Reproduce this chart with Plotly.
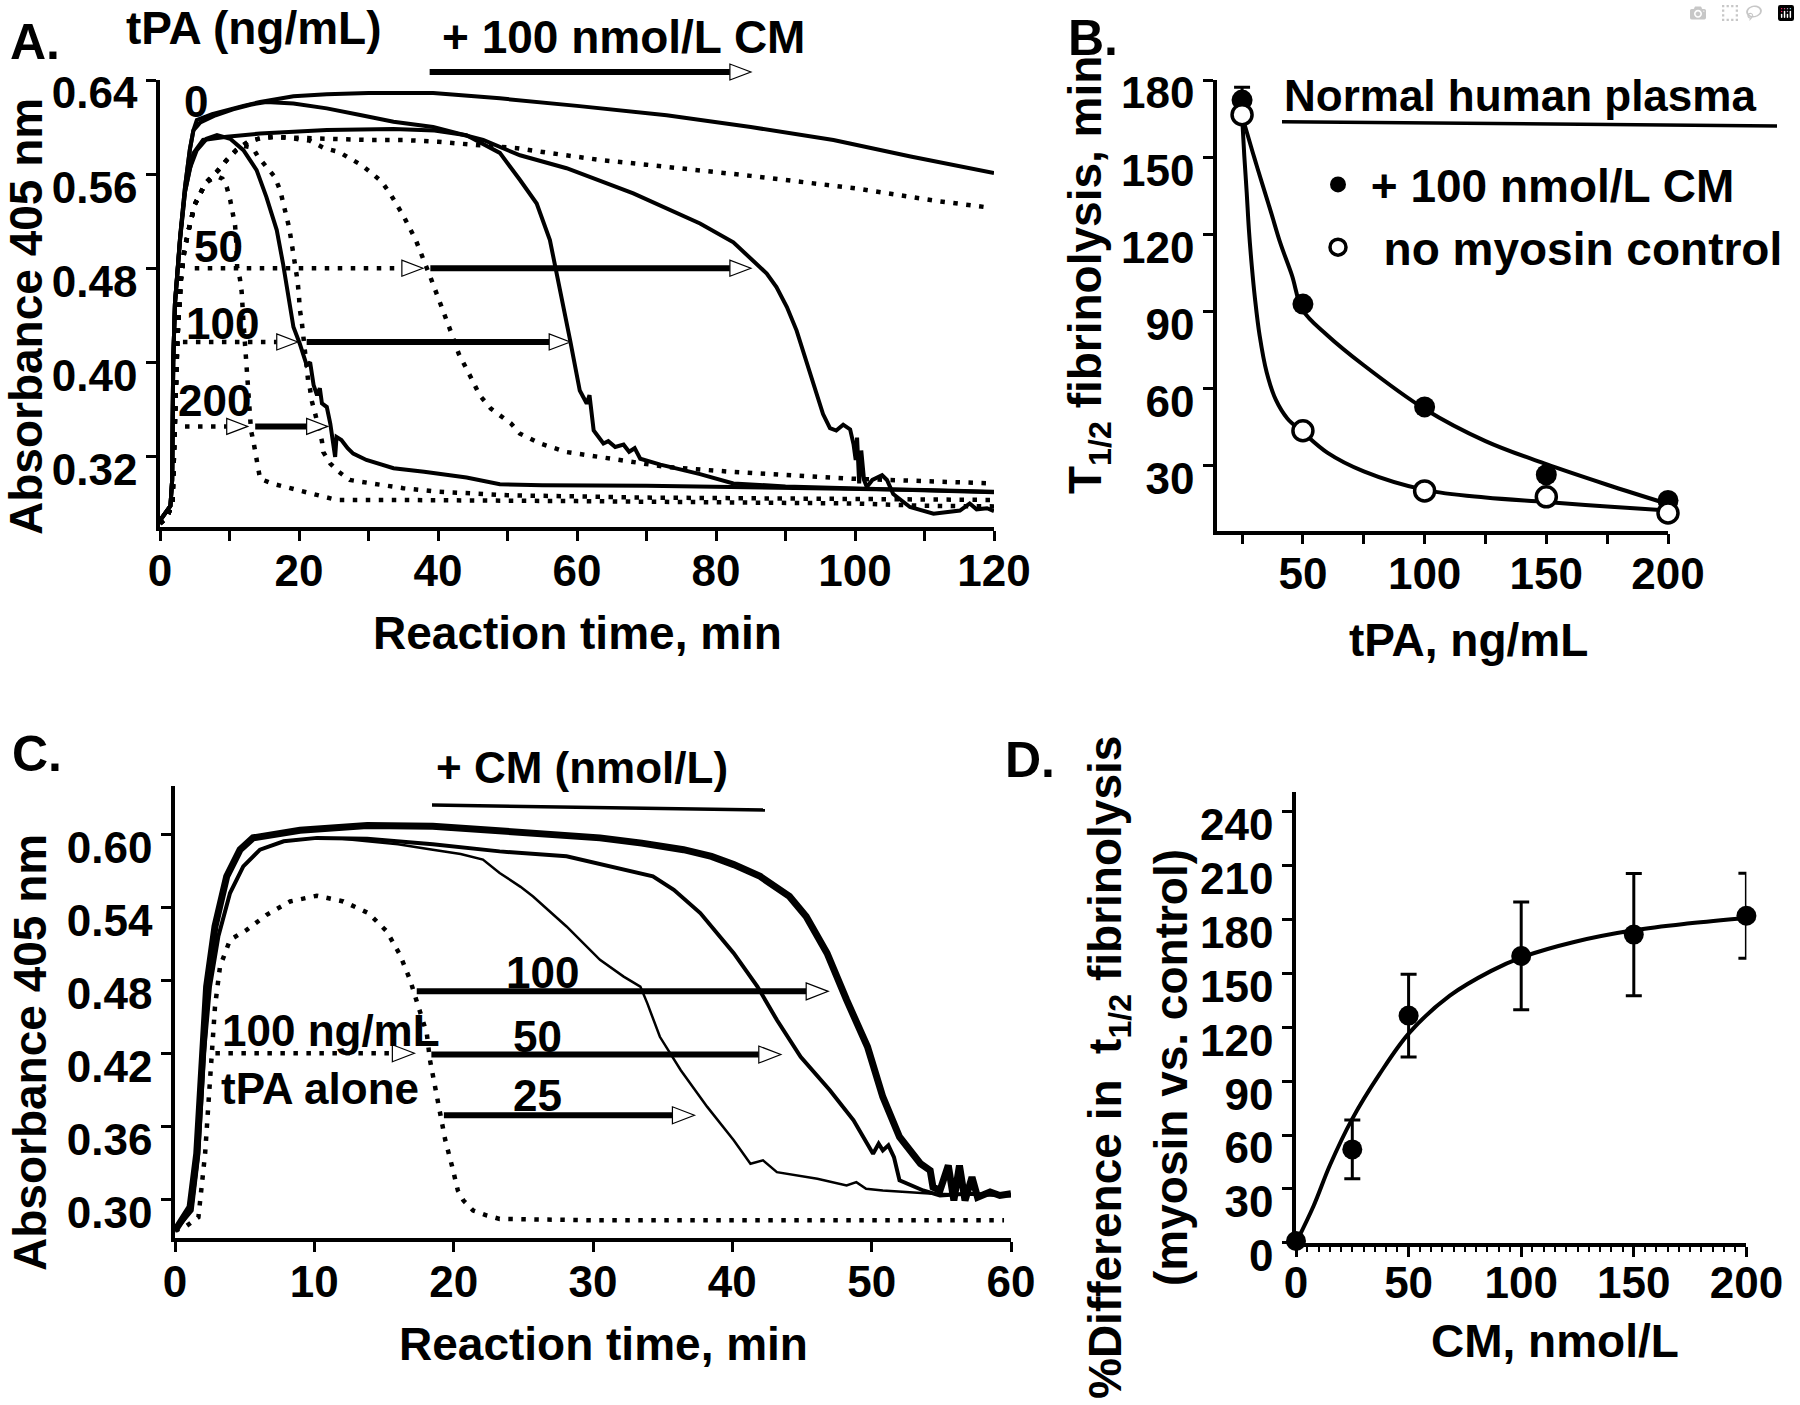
import plotly.graph_objects as go

FONT = "Liberation Sans, Arial, Helvetica, sans-serif"
W, H = 1800, 1405
BLACK = "black"

# ---------------- Panel A: absorbance vs time (tPA series, + / - 100 nmol/L CM) ----------------
a_t_s0 = [0, 0.7, 1.5, 1.75, 1.9, 2.15, 2.9, 3.6, 4.3, 4.8, 5.3, 7.5, 9.6, 12, 14.4, 16.8, 19.2, 24, 30, 39.3, 48.9, 60, 72.9, 85, 96.9, 108, 120]
a_v_s0 = [0.2655, 0.2712, 0.278, 0.30, 0.40, 0.45, 0.507, 0.549, 0.581, 0.597, 0.606, 0.611, 0.6145, 0.618, 0.6213, 0.624, 0.6262, 0.6279, 0.629, 0.629, 0.6244, 0.618, 0.610, 0.600, 0.589, 0.575, 0.561]

a_t_s50 = [0, 0.7, 1.5, 1.75, 1.9, 2.15, 2.9, 3.6, 4.3, 4.8, 5.8, 8, 10.5, 13, 15.3, 19.2, 24, 28.8, 33.6, 39.3, 46.5, 51.8, 58.5, 68.1, 77.7, 82.5, 85.2, 87.3, 88.7, 90.2, 91.6, 92.5, 94.0, 95.4, 96.4, 97.3, 98.3, 99.3, 99.8, 100.1, 100.3, 100.6, 100.9, 101.3, 101.7, 102.5, 103.9, 104.6, 105.5, 107.9, 111.3, 113, 115.1, 116.5, 117.5, 119, 120]
a_v_s50 = [0.2655, 0.2712, 0.278, 0.30, 0.40, 0.45, 0.507, 0.549, 0.581, 0.597, 0.604, 0.610, 0.615, 0.619, 0.6213, 0.620, 0.6159, 0.6102, 0.6045, 0.600, 0.589, 0.576, 0.565, 0.5436, 0.518, 0.502, 0.487, 0.4755, 0.464, 0.447, 0.427, 0.410, 0.382, 0.356, 0.344, 0.342, 0.347, 0.343, 0.330, 0.317, 0.336, 0.297, 0.325, 0.300, 0.294, 0.300, 0.304, 0.300, 0.288, 0.277, 0.2713, 0.2725, 0.274, 0.280, 0.275, 0.276, 0.2735]

a_t_s100 = [0, 0.7, 1.5, 1.75, 1.9, 2.15, 2.9, 3.6, 4.3, 4.8, 6.2, 9.6, 14.4, 24, 33.6, 39.5, 44.1, 48.9, 51.8, 54.2, 56.1, 57.6, 59.0, 60.4, 61.0, 61.4, 61.8, 62.4, 63.8, 64.5, 65.5, 66.7, 67.5, 68.3, 69.1, 72, 77.7, 82.5, 90, 100, 110, 120]
a_v_s100 = [0.2655, 0.2712, 0.278, 0.30, 0.40, 0.45, 0.505, 0.545, 0.563, 0.5776, 0.589, 0.5917, 0.5945, 0.5974, 0.5983, 0.597, 0.593, 0.578, 0.555, 0.535, 0.504, 0.461, 0.419, 0.376, 0.370, 0.365, 0.372, 0.342, 0.331, 0.333, 0.328, 0.330, 0.324, 0.327, 0.318, 0.313, 0.305, 0.297, 0.2945, 0.293, 0.291, 0.2896]

a_t_s200 = [0, 0.7, 1.5, 1.75, 1.9, 2.15, 2.9, 3.6, 4.3, 5.3, 6.7, 8.2, 10.1, 12.0, 13.9, 15.3, 16.8, 17.7, 18.7, 19.2, 20.1, 21.1, 21.6, 21.9, 22.1, 22.6, 23.0, 23.3, 24.0, 24.5, 24.9, 25.2, 25.4, 26.1, 27.0, 27.8, 29.7, 33.6, 38, 44.1, 48.9, 55, 70, 85, 100, 110, 120]
a_v_s200 = [0.2655, 0.2712, 0.278, 0.30, 0.40, 0.45, 0.505, 0.545, 0.565, 0.5804, 0.590, 0.5932, 0.590, 0.5804, 0.5634, 0.5407, 0.5124, 0.484, 0.45, 0.43, 0.416, 0.3976, 0.400, 0.384, 0.3806, 0.372, 0.378, 0.365, 0.362, 0.348, 0.328, 0.3196, 0.3366, 0.334, 0.327, 0.3224, 0.317, 0.310, 0.307, 0.302, 0.2963, 0.2955, 0.295, 0.294, 0.2925, 0.2915, 0.290]

a_t_d0 = [0, 1.0, 1.8, 2.1, 2.5, 3.0, 3.5, 4.1, 5.0, 5.8, 6.5, 8.4, 9.6, 11.0, 12.7, 14.4, 16.3, 19, 25, 30, 35, 40, 45, 51.4, 56, 63.3, 70, 77.7, 85, 92.1, 100, 106.5, 112, 118.7]
a_v_d0 = [0.263, 0.268, 0.28, 0.33, 0.42, 0.47, 0.495, 0.512, 0.534, 0.5435, 0.552, 0.5634, 0.572, 0.5805, 0.5876, 0.5904, 0.5917, 0.591, 0.5895, 0.589, 0.589, 0.5875, 0.585, 0.582, 0.578, 0.572, 0.568, 0.5634, 0.5585, 0.5535, 0.548, 0.542, 0.537, 0.532]

a_t_d50 = [0, 1.0, 1.8, 2.1, 2.5, 3.0, 3.5, 4.1, 5.0, 5.8, 6.5, 8.4, 9.6, 11.0, 12.7, 14.4, 16.3, 19, 21.5, 23.7, 25.7, 27.3, 29.0, 30.5, 31.9, 33.1, 34.1, 35.1, 36.8, 38.3, 39.0, 41.6, 43.0, 44.7, 46.0, 47.6, 50.5, 51.8, 54.7, 58.5, 63.3, 72.9, 82.5, 92.1, 99.8, 110, 120]
a_v_d50 = [0.263, 0.268, 0.28, 0.33, 0.42, 0.47, 0.495, 0.512, 0.534, 0.5435, 0.552, 0.5634, 0.572, 0.5805, 0.5876, 0.5904, 0.5917, 0.5904, 0.5885, 0.5819, 0.579, 0.5734, 0.5677, 0.5606, 0.5535, 0.5436, 0.5336, 0.5237, 0.504, 0.48, 0.471, 0.43, 0.407, 0.3875, 0.372, 0.3606, 0.348, 0.3393, 0.331, 0.3237, 0.3194, 0.311, 0.3068, 0.304, 0.301, 0.299, 0.297]

a_t_d100 = [0, 1.0, 1.8, 2.1, 2.5, 3.0, 3.5, 4.1, 5.0, 5.8, 6.5, 8.4, 9.6, 11.0, 12.0, 12.9, 13.4, 14.1, 15.3, 16.5, 17.3, 17.8, 18.2, 18.6, 18.9, 19.2, 19.6, 19.8, 20.0, 20.1, 20.4, 20.6, 21.1, 21.3, 21.6, 21.8, 22.3, 22.8, 23.3, 23.5, 24.5, 25.7, 27.3, 30.5, 35, 40, 50, 70, 90, 110, 120]
a_v_d100 = [0.263, 0.268, 0.28, 0.33, 0.42, 0.47, 0.495, 0.512, 0.534, 0.5435, 0.552, 0.5634, 0.572, 0.5805, 0.584, 0.583, 0.5819, 0.5748, 0.5663, 0.5577, 0.546, 0.5351, 0.524, 0.514, 0.503, 0.4911, 0.480, 0.4689, 0.456, 0.4457, 0.4344, 0.423, 0.3961, 0.385, 0.3768, 0.368, 0.357, 0.3456, 0.333, 0.3237, 0.314, 0.307, 0.300, 0.297, 0.293, 0.290, 0.287, 0.285, 0.284, 0.2835, 0.283]

a_t_d200 = [0, 1.0, 1.8, 2.1, 2.5, 3.0, 3.5, 4.1, 5.0, 5.8, 6.5, 7.5, 8.4, 9.0, 9.6, 10.1, 10.5, 10.8, 11.0, 11.1, 11.5, 11.75, 12.0, 12.4, 12.5, 12.7, 12.9, 13.1, 13.4, 13.7, 13.9, 14.4, 16.1, 18.0, 19.9, 21.8, 23.5, 25.4, 33, 40, 60, 80, 100, 110, 120]
a_v_d200 = [0.263, 0.268, 0.28, 0.33, 0.42, 0.47, 0.495, 0.512, 0.534, 0.5435, 0.552, 0.556, 0.5577, 0.556, 0.549, 0.538, 0.5265, 0.5166, 0.500, 0.481, 0.471, 0.46, 0.435, 0.403, 0.392, 0.378, 0.355, 0.342, 0.334, 0.324, 0.313, 0.301, 0.297, 0.294, 0.2914, 0.2886, 0.2857, 0.283, 0.283, 0.2825, 0.282, 0.281, 0.280, 0.278, 0.2775]

a_labels = ["0", "50", "100", "200"]
a_label_t = [5.2, 8.4, 9.0, 7.9]
a_label_v = [0.6217, 0.4987, 0.4332, 0.3677]

# arrows (rows for tPA 50, 100, 200)
a_row_v = [0.48, 0.4173, 0.3455]
a_dot_start = [5.0, 3.3, 3.6]
a_dot_end = [34.8, 16.8, 9.6]
a_sol_start = [38.9, 21.1, 13.7]
a_sol_end = [82.0, 56.0, 21.1]
a_top_start, a_top_end = 38.8, 82.0

# ---------------- Panel B: T1/2 vs tPA ----------------
b_tpa = [25, 50, 100, 150, 200]
b_cm = [172.2, 92.8, 52.8, 26.4, 16.4]
b_cm_err = [5.0, 0, 0, 0, 0]
b_ctrl = [166.5, 43.5, 20.1, 17.8, 11.5]
b_fit_cm_x = [25, 27.5, 30.3, 33.2, 37.0, 40.7, 45.5, 49.9, 60, 75, 100, 125, 150, 175, 200]
b_fit_cm_y = [166, 157.9, 148.9, 139.9, 128.2, 116.6, 104, 90.5, 80.7, 69, 52, 39.5, 30.5, 22.5, 15]
b_fit_ctrl_x = [25, 25.9, 26.9, 27.8, 29.0, 30.3, 32.2, 35.1, 38.9, 43.6, 49.9, 60, 75, 100, 125, 150, 175, 200]
b_fit_ctrl_y = [166, 150.7, 136.3, 121.9, 107.6, 95.0, 80.7, 66.3, 55.5, 48.3, 43.0, 35, 27.7, 20.5, 17.5, 15.8, 14.0, 12.5]

# ---------------- Panel C: absorbance vs time (CM series) ----------------
c_t_100 = [0, 1.08, 1.56, 1.92, 2.27, 2.87, 3.71, 4.67, 5.6, 8.97, 13.8, 18.5, 23.3, 26.5, 30.5, 33.5, 36.5, 38.5, 40.1, 42.0, 44.1, 45.3, 46.8, 48.2, 49.7, 50.8, 52.0, 53.5, 54.2, 54.4, 54.9, 55.5, 55.9, 56.3, 56.7, 57.2, 57.6, 58.5, 59.2, 60]
c_v_100 = [0.274, 0.2934, 0.3374, 0.4199, 0.4749, 0.5244, 0.5656, 0.5876, 0.5973, 0.6036, 0.6075, 0.6069, 0.6028, 0.600, 0.5973, 0.593, 0.5876, 0.582, 0.5753, 0.5656, 0.5491, 0.5326, 0.5024, 0.4639, 0.4254, 0.3841, 0.3511, 0.3291, 0.3236, 0.3099, 0.3071, 0.3277, 0.2989, 0.3277, 0.2989, 0.3181, 0.3016, 0.3058, 0.303, 0.3044]

c_t_50 = [0, 1.2, 1.68, 2.08, 2.51, 3.11, 3.95, 4.9, 6.1, 7.8, 10.2, 13.8, 18.5, 23.3, 28.1, 32.9, 34.3, 35.8, 37.7, 40.1, 41.8, 43.2, 44.9, 47.0, 48.7, 50.1, 50.5, 50.8, 51.2, 51.6, 52.0, 53.7, 54.9, 56.8, 60]
c_v_50 = [0.274, 0.2906, 0.3374, 0.4199, 0.4749, 0.5161, 0.5519, 0.5739, 0.5876, 0.5945, 0.5973, 0.5965, 0.592, 0.5862, 0.5821, 0.5697, 0.5656, 0.5546, 0.5354, 0.5024, 0.4749, 0.4474, 0.4171, 0.3896, 0.3649, 0.3374, 0.3456, 0.3401, 0.3443, 0.3346, 0.3154, 0.3071, 0.303, 0.3044, 0.303]

c_t_25 = [0, 1.2, 1.68, 2.08, 2.51, 3.11, 3.95, 4.9, 6.1, 7.8, 10.2, 12.0, 13.8, 16.0, 18.5, 20.5, 22.1, 23.3, 24.8, 25.7, 28.1, 30.5, 32.2, 33.4, 33.9, 34.8, 36.3, 38.2, 40.1, 41.3, 42.2, 43.2, 46.1, 48.2, 48.9, 49.6, 50.8, 54.4, 60]
c_v_25 = [0.274, 0.2906, 0.3374, 0.4199, 0.4749, 0.5161, 0.5519, 0.5739, 0.5876, 0.5945, 0.5973, 0.5965, 0.5945, 0.592, 0.5876, 0.584, 0.5794, 0.5684, 0.557, 0.549, 0.5244, 0.4969, 0.4831, 0.4749, 0.4611, 0.4336, 0.4061, 0.3759, 0.3484, 0.3291, 0.3319, 0.3222, 0.3167, 0.3112, 0.314, 0.3085, 0.3071, 0.3044, 0.303]

c_t_alone = [0, 0.84, 1.68, 1.92, 2.16, 2.4, 2.63, 2.87, 3.23, 3.95, 5.15, 6.58, 8.26, 10.17, 12.08, 13.88, 15.2, 16.15, 16.87, 17.47, 18.07, 18.3, 18.66, 19.0, 19.4, 19.9, 20.3, 20.7, 21.4, 22.4, 23.3, 30, 40, 50, 59.5]
c_v_alone = [0.274, 0.278, 0.2851, 0.3099, 0.3374, 0.3786, 0.4199, 0.4584, 0.4914, 0.5134, 0.5216, 0.534, 0.545, 0.5497, 0.545, 0.5354, 0.5203, 0.501, 0.4804, 0.4584, 0.4364, 0.4144, 0.3924, 0.369, 0.3484, 0.3264, 0.3071, 0.2989, 0.2906, 0.2865, 0.2837, 0.2826, 0.2826, 0.2826, 0.2826]

c_row_labels = ["100", "50", "25"]
c_row_v = [0.471, 0.419, 0.369]
c_sol_start = [17.35, 18.4, 19.3]
c_sol_end = [45.3, 41.9, 35.7]
c_label_t = [26.4, 26.0, 26.0]
c_label_v = [0.4866, 0.4336, 0.3855]
c_dot_v, c_dot_start, c_dot_end = 0.42, 2.9, 15.6

# ---------------- Panel D: % difference vs CM ----------------
d_cm = [0, 25, 50, 100, 150, 200]
d_pct = [1, 52, 126.5, 159.7, 171.6, 182.1]
d_err = [0, 16.4, 23, 30, 34, 23.7]
d_fit_x = [0, 7.7, 15.1, 24.8, 37.1, 50.3, 68.3, 86.7, 99.9, 123.5, 149.9, 174.9, 200]
d_fit_y = [0, 20.2, 43.3, 68.6, 93.9, 116.9, 137.6, 151.4, 158.8, 167.5, 174, 177.9, 180.9]

# ---------------- build figure ----------------
fig = go.Figure()
DOT = "4.5px,8.5px"


def px_x(p):
    return p / W


def px_y(p):
    return 1 - p / H


def curve(x, y, xa, ya, width, dash="solid", shape="linear"):
    fig.add_trace(go.Scatter(x=x, y=y, mode="lines", xaxis=xa, yaxis=ya,
                             line=dict(color=BLACK, width=width, dash=dash, shape=shape),
                             showlegend=False, hoverinfo="skip"))


# Panel A
for t, v in [(a_t_d0, a_v_d0), (a_t_d50, a_v_d50), (a_t_d100, a_v_d100), (a_t_d200, a_v_d200)]:
    curve(t, v, "x", "y", 4.5, DOT)
for t, v in [(a_t_s0, a_v_s0), (a_t_s50, a_v_s50), (a_t_s100, a_v_s100), (a_t_s200, a_v_s200)]:
    curve(t, v, "x", "y", 4)

# Panel B
curve(b_fit_cm_x, b_fit_cm_y, "x2", "y2", 4, shape="spline")
curve(b_fit_ctrl_x, b_fit_ctrl_y, "x2", "y2", 4, shape="spline")
fig.add_trace(go.Scatter(x=b_tpa, y=b_cm, mode="markers", xaxis="x2", yaxis="y2",
                         name="\u00a0+ 100 nmol/L CM", legendgroup="g1",
                         marker=dict(symbol="circle", size=21, color=BLACK),
                         error_y=dict(type="data", array=b_cm_err, color=BLACK, thickness=3, width=8),
                         cliponaxis=False, hoverinfo="skip"))
fig.add_trace(go.Scatter(x=b_tpa, y=b_ctrl, mode="markers", xaxis="x2", yaxis="y2",
                         name="\u00a0\u00a0no myosin control", legendgroup="g2",
                         marker=dict(symbol="circle", size=20, color="white", line=dict(color=BLACK, width=3.5)),
                         cliponaxis=False, hoverinfo="skip"))

# Panel C
curve(c_t_alone, c_v_alone, "x3", "y3", 4.5, DOT)
curve(c_t_25, c_v_25, "x3", "y3", 2.5)
curve(c_t_50, c_v_50, "x3", "y3", 4)
curve(c_t_100, c_v_100, "x3", "y3", 7)

# Panel D
curve(d_fit_x, d_fit_y, "x4", "y4", 4, shape="spline")
fig.add_trace(go.Scatter(x=d_cm, y=d_pct, mode="markers", xaxis="x4", yaxis="y4",
                         marker=dict(symbol="circle", size=20, color=BLACK),
                         error_y=dict(type="data", array=d_err, color=BLACK, thickness=3, width=8),
                         cliponaxis=False, showlegend=False, hoverinfo="skip"))

# ---------------- arrows (shapes) ----------------
shapes = []


def hline(x0, x1, y, xref, yref, width, dash="solid"):
    shapes.append(dict(type="line", x0=x0, x1=x1, y0=y, y1=y, xref=xref, yref=yref,
                       line=dict(color=BLACK, width=width, dash=dash), layer="above"))


def head(x, y, xref, yref, length=21, half=8):
    shapes.append(dict(type="path", xref=xref, yref=yref, xsizemode="pixel", ysizemode="pixel",
                       xanchor=x, yanchor=y, path=f"M0,{-half} L{length},0 L0,{half} Z",
                       fillcolor="white", line=dict(color=BLACK, width=1.2), layer="above"))


for v, ds, de, ss, se in zip(a_row_v, a_dot_start, a_dot_end, a_sol_start, a_sol_end):
    hline(ds, de, v, "x", "y", 4.5, DOT)
    head(de, v, "x", "y")
    hline(ss, se, v, "x", "y", 6)
    head(se, v, "x", "y")
TOP_ARROW_Y = px_y(72)
hline(a_top_start, a_top_end, TOP_ARROW_Y, "x", "paper", 6)
head(a_top_end, TOP_ARROW_Y, "x", "paper")

for v, ss, se in zip(c_row_v, c_sol_start, c_sol_end):
    hline(ss, se, v, "x3", "y3", 6)
    head(se, v, "x3", "y3", 22, 8.5)
hline(c_dot_start, c_dot_end, c_dot_v, "x3", "y3", 4.5, DOT)
head(c_dot_end, c_dot_v, "x3", "y3", 22, 8.5)

# underlines of the headers
shapes.append(dict(type="line", xref="paper", yref="paper", x0=px_x(1282), y0=px_y(121.7), x1=px_x(1777), y1=px_y(126),
                   line=dict(color=BLACK, width=3.5)))
shapes.append(dict(type="line", xref="paper", yref="paper", x0=px_x(432), y0=px_y(805), x1=px_x(765), y1=px_y(810),
                   line=dict(color=BLACK, width=3.5)))

# ---------------- annotations ----------------
ann = []


def text(s, x, y, size=46, angle=0, xref="paper", yref="paper"):
    if xref == "paper":
        x = px_x(x)
    if yref == "paper":
        y = px_y(y)
    ann.append(dict(text=f"<b>{s}</b>", x=x, y=y, xref=xref, yref=yref, showarrow=False,
                    xanchor="center", yanchor="middle", textangle=angle,
                    font=dict(family=FONT, size=size, color=BLACK)))


text("A.", 35, 42, 50)
text("B.", 1093, 38, 50)
text("C.", 37, 754, 50)
text("D.", 1030, 760, 50)
text("tPA (ng/mL)", 254, 28, 46)
text("+ 100 nmol/L CM", 623, 37, 46)
for s, t, v in zip(a_labels, a_label_t, a_label_v):
    text(s, t, v, 44, xref="x", yref="y")
text("Normal human plasma", 1520, 95, 44)
text("+ CM (nmol/L)", 582, 767, 44)
for s, t, v in zip(c_row_labels, c_label_t, c_label_v):
    text(s, t, v, 44, xref="x3", yref="y3")
text("100 ng/mL", 11.2, 0.4391, 44, xref="x3", yref="y3")
text("tPA alone", 10.4, 0.3913, 44, xref="x3", yref="y3")

text("Absorbance 405 nm", 26, 317, 46, -90)
text("Reaction time, min", 577, 633, 46)
text("T<sub>1/2</sub> fibrinolysis, min", 1088, 275, 46, -90)
text("tPA, ng/mL", 1468, 640, 46)
text("Absorbance 405 nm", 30, 1053, 46, -90)
text("Reaction time, min", 603, 1344, 46)
text("%Difference in\u00a0 t<sub>1/2</sub> fibrinolysis", 1108, 1068, 46, -90)
text("(myosin vs. control)", 1171, 1068, 46, -90)
text("CM, nmol/L", 1555, 1341, 46)


# ---------------- axes ----------------
def ax(**kw):
    d = dict(showline=True, linecolor=BLACK, linewidth=3.5, ticks="outside", ticklen=10, tickwidth=3,
             tickcolor=BLACK, showgrid=False, zeroline=False, fixedrange=True, automargin=False,
             tickfont=dict(family=FONT, size=44, color=BLACK, weight="bold"))
    d.update(kw)
    return d


fig.update_layout(
    template="none",
    width=W, height=H, autosize=False,
    margin=dict(l=0, r=0, t=0, b=0, pad=0, autoexpand=False),
    paper_bgcolor="white", plot_bgcolor="white",
    font=dict(family=FONT, color=BLACK),
    xaxis=ax(domain=[px_x(160), px_x(994)], range=[0, 120], anchor="y", dtick=20, tick0=0, ticklabelstandoff=-8,
             minor=dict(dtick=10, ticks="outside", ticklen=10, tickwidth=3, tickcolor=BLACK)),
    yaxis=ax(domain=[px_y(527), px_y(80)], range=[0.26, 0.64], anchor="x",
             tickvals=[0.32, 0.40, 0.48, 0.56, 0.64], tickformat=".2f", ticklabelshift=13),
    xaxis2=ax(domain=[px_x(1217), px_x(1668)], range=[14.7, 200], anchor="y2", ticklabelstandoff=-8,
              tickvals=[50, 100, 150, 200],
              minor=dict(dtick=25, tick0=0, ticks="outside", ticklen=10, tickwidth=3, tickcolor=BLACK)),
    yaxis2=ax(domain=[px_y(530.5), px_y(80)], range=[4.7, 180], anchor="x2", dtick=30, tick0=0,
              ticklabelshift=13),
    xaxis3=ax(domain=[px_x(175), px_x(1011)], range=[0, 60], anchor="y3", dtick=10, tick0=0, ticklabelstandoff=-8),
    yaxis3=ax(domain=[px_y(1238), px_y(786)], range=[0.268, 0.64], anchor="x3",
              tickvals=[0.30, 0.36, 0.42, 0.48, 0.54, 0.60], tickformat=".2f", ticklabelshift=13),
    xaxis4=ax(domain=[px_x(1296), px_x(1746.4)], range=[0, 200], anchor="y4", dtick=50, tick0=0, ticklabelstandoff=-11,
              minor=dict(dtick=5, ticks="outside", ticklen=5, tickwidth=2, tickcolor=BLACK)),
    yaxis4=ax(domain=[px_y(1242.8), px_y(792)], range=[0, 251], anchor="x4", dtick=30, tick0=0,
              ticklabelshift=13),
    shapes=shapes,
    annotations=ann,
    showlegend=True,
    legend=dict(x=px_x(1318), y=px_y(148), xanchor="left", yanchor="top", bgcolor="rgba(0,0,0,0)",
                font=dict(family=FONT, size=46, color=BLACK, weight="bold"), tracegroupgap=0,
                itemwidth=30, traceorder="grouped", borderwidth=0),
)

fig.write_html("out.html", post_script="document.body.style.margin='0px';")
